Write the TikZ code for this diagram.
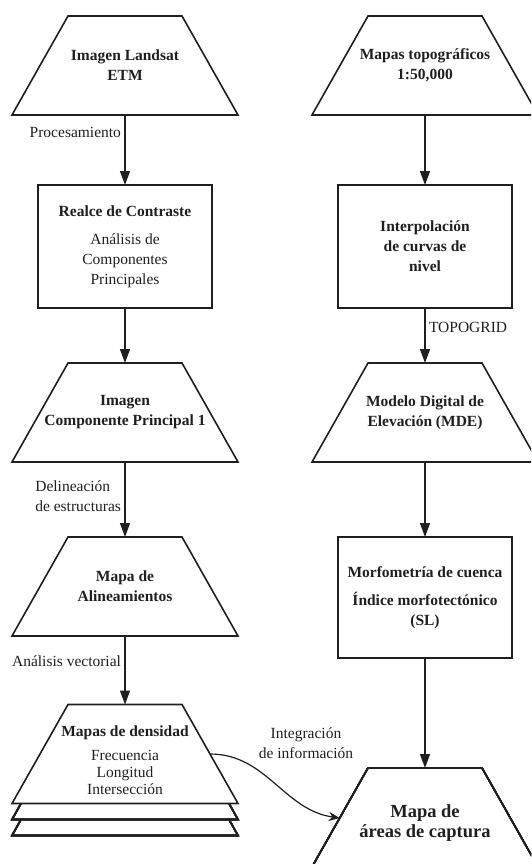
\documentclass[tikz,border=0pt]{standalone}
\usepackage{fontspec}
\setmainfont{Liberation Serif}
\usetikzlibrary{arrows.meta,positioning}

\newcommand{\flowfont}{\fontsize{15.5}{20}\selectfont}
\newcommand{\bigflowfont}{\fontsize{18.5}{20.5}\selectfont}
% trapezoid outline round a node: #1 node, #2 inset of the top corners
\newcommand{\trapshape}[2]{\draw[trapline] (#1.south west) -- (#1.south east) -- ([xshift=-#2]#1.north east) -- ([xshift=#2]#1.north west) -- cycle;}

\tikzset{
  trap/.style={rectangle, minimum width=226pt, minimum height=99pt,
    align=center, font=\flowfont\bfseries, outer sep=0pt, inner sep=2pt},
  trapline/.style={line width=1.6pt, line join=miter},
  procbox/.style={draw, rectangle, minimum width=174pt, minimum height=123pt,
    align=center, font=\flowfont, line width=1.6pt, outer sep=0pt},
  flow/.style={-{Triangle[length=14pt,width=10pt]}, line width=1.4pt},
  curveflow/.style={-{Stealth[length=11pt,width=9pt]}, line width=1.2pt},
  lab/.style={font=\flowfont, align=left}
}

\begin{document}
\begin{tikzpicture}[x=1pt, y=-1pt, color=black!88]
    \useasboundingbox (0,0) rectangle (531,864);
    \clip (0,0) rectangle (531,864);

    % left column
    \node[trap] (landsat) at (125,65.5) {Imagen Landsat\\ETM};
    \node[procbox] (realce) at (125,246.5) {\textbf{Realce de Contraste}\\[8pt]Análisis de\\Componentes\\Principales};
    \node[trap] (cp1) at (125,412.5) {Imagen\\Componente Principal 1};
    \node[trap] (alin) at (125,586.5) {Mapa de\\Alineamientos};
    \node[trap, font=\flowfont] (dens) at (125,754) {\rule{0pt}{23pt}\textbf{Mapas de densidad}\\[4pt]Frecuencia\\[-3pt]Longitud\\[-3pt]Intersección};

    % right column
    \node[trap] (topo) at (425,65.5) {Mapas topográficos\\1:50,000};
    \node[procbox, font=\flowfont\bfseries] (interp) at (425,246.5) {Interpolación\\de curvas de\\nivel};
    \node[trap] (mde) at (425,412.5) {Modelo Digital de\\Elevación (MDE)};
    \node[procbox, minimum height=121pt, font=\flowfont\bfseries] (morfo) at (425,597.5) {Morfometría de cuenca\\[8pt]Índice morfotectónico\\(SL)};
    \node[trap, minimum height=110pt, minimum width=238.5pt, font=\bigflowfont\bfseries] (final) at (425,823) {Mapa de\\áreas de captura};

    % trapezoid outlines
    \foreach \n in {landsat,cp1,alin,dens,topo,mde}
        \trapshape{\n}{56pt}
    \trapshape{final}{62.2pt}
    % stacked sheets under the density map
    \foreach \k in {0,1}
        \draw[trapline] ([xshift=9pt, yshift=-16*\k pt]dens.south west) -- ([yshift=-16*\k pt-16pt]dens.south west)
            -- ([yshift=-16*\k pt-16pt]dens.south east) -- ([xshift=-9pt, yshift=-16*\k pt]dens.south east);

    % connectors
    \draw[flow] (landsat) -- node[lab, left, pos=0.25] (proclab) {Procesamiento} (realce);
    \draw[flow] (realce) -- (cp1);
    \draw[flow] (cp1) -- node[lab, left, pos=0.45] (delinlab) {Delineación\\de estructuras} (alin);
    \draw[flow] (alin) -- node[lab, left, pos=0.37] (vectlab) {Análisis vectorial} (dens);

    \draw[flow] (topo) -- (interp);
    \draw[flow] (interp) -- node[lab, right, pos=0.36] (gridlab) {TOPOGRID} (mde);
    \draw[flow] (mde) -- (morfo);
    \draw[flow] (morfo) -- (final);

    \coordinate (densside) at ([xshift=-28pt]dens.east);
    \coordinate (finalside) at ([xshift=34pt, yshift=5pt]final.west);
    \draw[curveflow] (densside) to[out=0, in=172] (finalside);
    \node[lab, align=center] (integlab) at (306,743.5) {Integración\\de información};
\end{tikzpicture}
\end{document}
